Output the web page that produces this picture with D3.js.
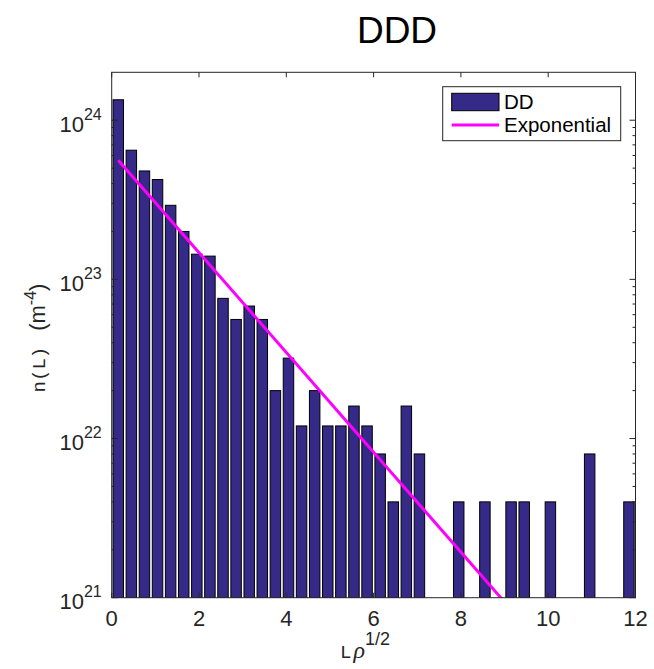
<!DOCTYPE html>
<html>
  <head>
    <meta charset="utf-8">
    <title>DDD</title>
    <script src="https://cdn.jsdelivr.net/npm/d3@7"></script>
    <style>
      body { margin: 0; background: #fff; }
      svg { display: block; }
      text { fill: #262626; font-family: "Liberation Sans", Arial, sans-serif; }
    </style>
  </head>
  <body>
    <div id="chart"></div>

    <script>
      // histogram bins (centres of 0.3-wide bins from 0 to 12)
      binCenters = d3.range(40).map(function(k) { return +(0.15 + 0.3 * k).toFixed(2); });
      // bar heights (m^-4), 0 = empty bin
      binValues = [
        1.344e24, 6.48e23, 4.8e23, 4.24e23, 2.92e23, 2.0e23, 1.44e23, 1.4e23,
        7.6e22, 5.6e22, 6.8e22, 5.6e22, 2.0e22, 3.2e22, 1.2e22, 2.0e22,
        1.2e22, 1.2e22, 1.6e22, 1.2e22, 8e21, 4e21, 1.6e22, 8e21,
        0, 0, 4e21, 0, 4e21, 0, 4e21, 4e21,
        0, 4e21, 0, 0, 8e21, 0, 0, 4e21
      ];
      // exponential fit, end points
      fitX = [0.15, 11.85];
      fitY = [5.6e23, 1.2e20];

      xTicks = [0, 2, 4, 6, 8, 10, 12];
      yTicks = [1e21, 1e22, 1e23, 1e24];

      width = 654;
      height = 669;
      plot = { left: 111.7, right: 635.5, top: 72.3, bottom: 597.7 };

      svg = d3.select("#chart")
        .append("svg")
          .attr("width", width)
          .attr("height", height);

      x = d3.scaleLinear().domain([0, 12]).range([plot.left, plot.right]);
      y = d3.scaleLog().domain([1e21, 2e24]).range([plot.bottom, plot.top]);

      svg.append("clipPath")
          .attr("id", "clip")
        .append("rect")
          .attr("x", plot.left)
          .attr("y", plot.top)
          .attr("width", plot.right - plot.left)
          .attr("height", plot.bottom - plot.top);

      // bars
      barW = (x(0.3) - x(0)) * 0.8;
      svg.append("g")
          .attr("clip-path", "url(#clip)")
        .selectAll("rect")
          .data(binCenters)
        .enter().append("rect")
          .attr("x", function(d) { return x(d) - barW / 2; })
          .attr("width", barW)
          .attr("y", function(d, i) { return binValues[i] > 0 ? y(binValues[i]) : plot.bottom; })
          .attr("height", function(d, i) { return binValues[i] > 0 ? plot.bottom - y(binValues[i]) : 0; })
          .attr("fill", "#352a87")
          .attr("stroke", "#000")
          .attr("stroke-width", 1);

      // fitted line
      line = d3.line()
        .x(function(d) { return x(d[0]); })
        .y(function(d) { return y(d[1]); });
      svg.append("path")
        .attr("clip-path", "url(#clip)")
        .attr("d", line(d3.zip(fitX, fitY)))
        .attr("fill", "none")
        .attr("stroke", "#ff00ff")
        .attr("stroke-width", 3);

      // axes box
      axisColor = "#262626";
      svg.append("rect")
        .attr("x", plot.left)
        .attr("y", plot.top)
        .attr("width", plot.right - plot.left)
        .attr("height", plot.bottom - plot.top)
        .attr("fill", "none")
        .attr("stroke", axisColor)
        .attr("stroke-width", 1);

      ticks = svg.append("g")
        .attr("stroke", axisColor)
        .attr("stroke-width", 1);

      // x ticks, bottom and top, inside
      xTicks.forEach(function(t) {
        ticks.append("line")
          .attr("x1", x(t)).attr("x2", x(t))
          .attr("y1", plot.bottom).attr("y2", plot.bottom - 5);
        ticks.append("line")
          .attr("x1", x(t)).attr("x2", x(t))
          .attr("y1", plot.top).attr("y2", plot.top + 5);
        svg.append("text")
          .attr("x", x(t))
          .attr("y", plot.bottom + 28)
          .attr("text-anchor", "middle")
          .style("font-size", "22px")
          .text(t);
      });

      // y ticks, major and minor, left and right
      yMinor = [];
      d3.range(21, 25).forEach(function(p) {
        d3.range(2, 10).forEach(function(m) {
          let v = m * Math.pow(10, p);
          if (v < 2e24) yMinor.push(v);
        });
      });
      yMinor.forEach(function(v) {
        ticks.append("line")
          .attr("x1", plot.left).attr("x2", plot.left + 3)
          .attr("y1", y(v)).attr("y2", y(v));
        ticks.append("line")
          .attr("x1", plot.right).attr("x2", plot.right - 3)
          .attr("y1", y(v)).attr("y2", y(v));
      });
      yTicks.forEach(function(v) {
        ticks.append("line")
          .attr("x1", plot.left).attr("x2", plot.left + 6)
          .attr("y1", y(v)).attr("y2", y(v));
        ticks.append("line")
          .attr("x1", plot.right).attr("x2", plot.right - 6)
          .attr("y1", y(v)).attr("y2", y(v));
        let lab = svg.append("text")
          .attr("x", plot.left - 10)
          .attr("y", y(v) + 11.5)
          .attr("text-anchor", "end")
          .style("font-size", "22px");
        lab.append("tspan").text("10");
        lab.append("tspan")
          .attr("dy", -12)
          .style("font-size", "16px")
          .text(Math.round(Math.log10(v)));
      });

      // title
      svg.append("text")
        .attr("x", 397)
        .attr("y", 43)
        .attr("text-anchor", "middle")
        .style("font-size", "37px")
        .style("fill", "#000")
        .text("DDD");

      // x label: L rho^1/2
      xl = svg.append("text")
        .attr("x", 340)
        .attr("y", 658)
        .style("font-size", "24px");
      xl.append("tspan")
        .style("font-family", "'Liberation Mono', monospace")
        .style("font-size", "19px")
        .text("L");
      xl.append("tspan")
        .attr("dx", 2)
        .style("font-family", "'Liberation Serif', serif")
        .style("font-style", "italic")
        .text("\u03c1");
      xl.append("tspan")
        .attr("dy", -13)
        .style("font-size", "18px")
        .text("1/2");

      // y label: n(L) (m^-4)
      yl = svg.append("text")
        .attr("transform", "translate(45,338) rotate(-90)")
        .attr("text-anchor", "middle")
        .style("font-size", "22px");
      yl.append("tspan")
        .style("font-family", "'Liberation Mono', monospace")
        .style("font-size", "19px")
        .text("n(L)");
      yl.append("tspan")
        .attr("dx", 16)
        .text("(m");
      yl.append("tspan")
        .attr("dy", -9)
        .style("font-size", "16px")
        .text("-4");
      yl.append("tspan")
        .attr("dy", 9)
        .text(")");

      // legend
      legend = svg.append("g");
      legend.append("rect")
        .attr("x", 442.7).attr("y", 86.7)
        .attr("width", 178).attr("height", 54)
        .attr("fill", "#fff")
        .attr("stroke", axisColor)
        .attr("stroke-width", 1);
      legend.append("rect")
        .attr("x", 451.7).attr("y", 93.3)
        .attr("width", 47.3).attr("height", 17.4)
        .attr("fill", "#352a87")
        .attr("stroke", "#000");
      legend.append("line")
        .attr("x1", 451.7).attr("x2", 499)
        .attr("y1", 125).attr("y2", 125)
        .attr("stroke", "#ff00ff")
        .attr("stroke-width", 3);
      legend.append("text")
        .attr("x", 504).attr("y", 109)
        .style("font-size", "20.5px")
        .style("fill", "#000")
        .text("DD");
      legend.append("text")
        .attr("x", 504).attr("y", 132)
        .style("font-size", "20.5px")
        .style("fill", "#000")
        .text("Exponential");
    </script>
  </body>
</html>
